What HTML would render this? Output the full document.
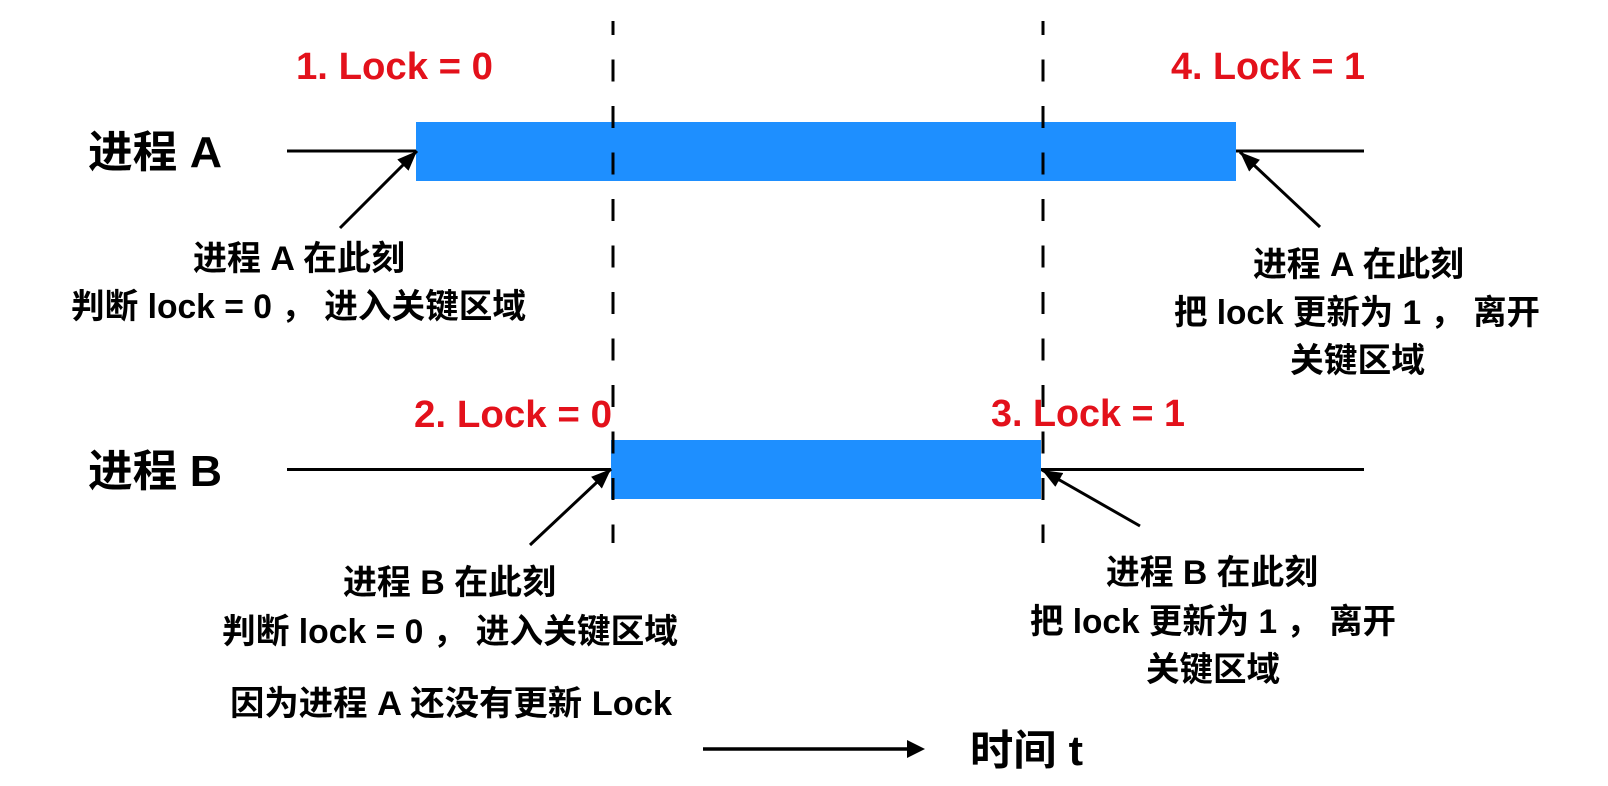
<!DOCTYPE html>
<html>
<head>
<meta charset="utf-8">
<style>
  html, body { margin: 0; padding: 0; background: #ffffff; }
  body { width: 1608px; height: 786px; overflow: hidden; }
  svg { display: block; }
  text { font-family: "Liberation Sans", "Noto Sans CJK SC", sans-serif; font-weight: bold; }
</style>
</head>
<body>
<svg width="1608" height="786" viewBox="0 0 1608 786" xmlns="http://www.w3.org/2000/svg">
  <defs>
    <marker id="ah" markerWidth="22" markerHeight="18" refX="20" refY="8" orient="auto" markerUnits="userSpaceOnUse">
      <path d="M0,0 L20,8 L0,16 Z" fill="#000"/>
    </marker>
  </defs>
  <rect x="0" y="0" width="1608" height="786" fill="#fff"/>

  <!-- timelines -->
  <line x1="287" y1="151" x2="1364" y2="151" stroke="#000" stroke-width="3"/>
  <line x1="287" y1="469.5" x2="1364" y2="469.5" stroke="#000" stroke-width="3"/>

  <!-- bars -->
  <rect x="416" y="122" width="820" height="59" fill="#1E8FFF"/>
  <rect x="611" y="440" width="430" height="59" fill="#1E8FFF"/>

  <!-- dashed verticals -->
  <line x1="613" y1="21" x2="613" y2="543" stroke="#000" stroke-width="3" stroke-dasharray="22 24.5" stroke-dashoffset="8"/>
  <line x1="1043" y1="21" x2="1043" y2="543" stroke="#000" stroke-width="3" stroke-dasharray="22 24.5" stroke-dashoffset="8"/>

  <!-- diagonal arrows -->
  <line x1="340" y1="228" x2="417" y2="151" stroke="#000" stroke-width="3" marker-end="url(#ah)"/>
  <line x1="1320" y1="227" x2="1240" y2="152" stroke="#000" stroke-width="3" marker-end="url(#ah)"/>
  <line x1="530" y1="545" x2="611" y2="469" stroke="#000" stroke-width="3" marker-end="url(#ah)"/>
  <line x1="1140" y1="526" x2="1042" y2="470" stroke="#000" stroke-width="3" marker-end="url(#ah)"/>

  <!-- time arrow -->
  <line x1="703" y1="749" x2="909" y2="749" stroke="#000" stroke-width="3.5"/>
  <polygon points="907,740 925,749 907,758" fill="#000"/>
  <text x="970" y="765" font-size="42" fill="#000" textLength="113" lengthAdjust="spacingAndGlyphs">时间 t</text>

  <!-- process labels -->
  <text x="88" y="167" font-size="44" fill="#000" textLength="134" lengthAdjust="spacingAndGlyphs">进程 A</text>
  <text x="88" y="486" font-size="44" fill="#000" textLength="134" lengthAdjust="spacingAndGlyphs">进程 B</text>

  <!-- red lock labels -->
  <text x="296" y="79" font-size="38" fill="#E3111B" textLength="197" lengthAdjust="spacingAndGlyphs">1. Lock = 0</text>
  <text x="1171" y="79" font-size="38" fill="#E3111B" textLength="194" lengthAdjust="spacingAndGlyphs">4. Lock = 1</text>
  <text x="414" y="427" font-size="38" fill="#E3111B" textLength="198" lengthAdjust="spacingAndGlyphs">2. Lock = 0</text>
  <text x="991" y="426" font-size="38" fill="#E3111B" textLength="194" lengthAdjust="spacingAndGlyphs">3. Lock = 1</text>

  <!-- annotation A1 -->
  <text x="193" y="270" font-size="34" fill="#000" textLength="212" lengthAdjust="spacingAndGlyphs">进程 A 在此刻</text>
  <text x="71" y="318" font-size="34" fill="#000" textLength="455" lengthAdjust="spacingAndGlyphs">判断 lock = 0 ， 进入关键区域</text>

  <!-- annotation A4 -->
  <text x="1253" y="276" font-size="34" fill="#000" textLength="211" lengthAdjust="spacingAndGlyphs">进程 A 在此刻</text>
  <text x="1174" y="324" font-size="34" fill="#000" textLength="366" lengthAdjust="spacingAndGlyphs">把 lock 更新为 1 ， 离开</text>
  <text x="1290" y="372" font-size="34" fill="#000" textLength="135" lengthAdjust="spacingAndGlyphs">关键区域</text>

  <!-- annotation B2 -->
  <text x="343" y="594" font-size="34" fill="#000" textLength="213" lengthAdjust="spacingAndGlyphs">进程 B 在此刻</text>
  <text x="222" y="643" font-size="34" fill="#000" textLength="456" lengthAdjust="spacingAndGlyphs">判断 lock = 0 ， 进入关键区域</text>
  <text x="230" y="715" font-size="34" fill="#000" textLength="442" lengthAdjust="spacingAndGlyphs">因为进程 A 还没有更新 Lock</text>

  <!-- annotation B3 -->
  <text x="1106" y="584" font-size="34" fill="#000" textLength="212" lengthAdjust="spacingAndGlyphs">进程 B 在此刻</text>
  <text x="1030" y="633" font-size="34" fill="#000" textLength="366" lengthAdjust="spacingAndGlyphs">把 lock 更新为 1 ， 离开</text>
  <text x="1146" y="681" font-size="34" fill="#000" textLength="134" lengthAdjust="spacingAndGlyphs">关键区域</text>
</svg>
</body>
</html>
